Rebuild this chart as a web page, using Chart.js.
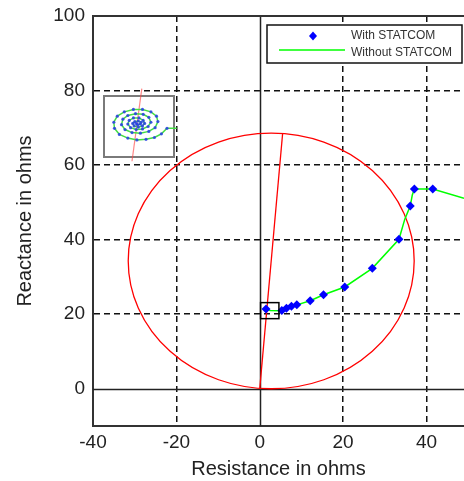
<!DOCTYPE html>
<html>
<head>
<meta charset="utf-8">
<script src="https://cdn.jsdelivr.net/npm/chart.js@4.4.1/dist/chart.umd.min.js"></script>
<style>
  html, body { margin: 0; padding: 0; background: #fff; overflow: hidden; }
  #wrap { width: 464px; height: 481px; }
</style>
</head>
<body>
<div id="wrap"><canvas id="chart" width="464" height="481"></canvas></div>
<script>
// tick labels
const xTicks = [-40, -20, 0, 20, 40];
const yTicks = [0, 20, 40, 60, 80, 100];

// impedance trajectory with STATCOM (markers)
const withX = [1.5, 5.3, 6.4, 7.6, 8.9, 12.1, 15.3, 20.4, 27.0, 33.4, 36.1, 37.1, 41.5];
const withY = [21.4, 21.0, 21.6, 22.1, 22.5, 23.6, 25.2, 27.3, 32.3, 40.1, 49.0, 53.6, 53.6];

// impedance trajectory without STATCOM (line)
const withoutX = [1.5, 2.5, 5.0, 5.3, 6.4, 7.6, 8.9, 12.1, 15.3, 20.4, 27.0, 33.4, 34.8, 36.1, 36.6, 37.1, 41.5, 49.0];
const withoutY = [21.4, 21.0, 20.9, 21.0, 21.6, 22.1, 22.5, 23.6, 25.2, 27.3, 32.3, 40.1, 45.5, 49.0, 52.0, 53.6, 53.6, 51.1];

// mho relay characteristic: circle centre / radius and its diameter
const mhoCenter = [2.75, 34.3];
const mhoRadius = [34.3];
const diaX = [0, 5.5];
const diaY = [0, 68.6];

// zoomed region marked on the plot [xmin, xmax, ymin, ymax]
const zoomBox = [0.2, 4.6, 18.8, 23.1];

// inset (zoom of the box), local units 0..100
const insetDotsU = [90, 82, 72, 60, 47, 34, 22, 15, 14, 19, 29, 42, 55, 67, 75, 77,
  73, 64, 52, 40, 30, 25, 27, 34, 45, 56, 64, 67,
  63, 55, 46, 38, 34, 36, 42, 50, 56, 58,
  55, 49, 43, 41, 44, 49, 53, 52, 48, 46];
const insetDotsV = [53, 62, 68, 71, 72, 69, 63, 53, 43, 33, 26, 22, 22, 26, 33, 42,
  52, 58, 61, 60, 55, 47, 38, 32, 29, 30, 35, 43,
  50, 54, 55, 52, 46, 40, 36, 36, 40, 45,
  49, 51, 49, 45, 42, 41, 43, 46, 47, 45];
const insetTailU = [104, 90];
const insetTailV = [53, 53];
const insetRedU = [54, 40];
const insetRedV = [-12, 107];

const FONT = 'Arial, "Liberation Sans", sans-serif';

function pts(xs, ys) {
    return xs.map((x, i) => ({ x: x, y: ys[i] }));
}

// 0축 실선, 원, 윗 테두리
const overlayPlugin = {
    id: 'overlay',
    beforeDatasetsDraw(chart) {
        const { ctx, chartArea: a, scales: { x, y } } = chart;
        ctx.save();
        ctx.strokeStyle = '#222';
        ctx.lineWidth = 1.5;
        const x0 = Math.round(x.getPixelForValue(0)) + 0.5;
        const y0 = Math.round(y.getPixelForValue(0)) + 0.5;
        ctx.beginPath();
        ctx.moveTo(x0, a.top); ctx.lineTo(x0, a.bottom);
        ctx.moveTo(a.left, y0); ctx.lineTo(a.right, y0);
        ctx.stroke();

        // mho circle
        ctx.beginPath();
        ctx.rect(a.left, a.top, a.right - a.left, a.bottom - a.top);
        ctx.clip();
        const cx = x.getPixelForValue(mhoCenter[0]);
        const cy = y.getPixelForValue(mhoCenter[1]);
        const rx = Math.abs(x.getPixelForValue(mhoCenter[0] + mhoRadius[0]) - cx);
        const ry = Math.abs(y.getPixelForValue(mhoCenter[1] + mhoRadius[0]) - cy);
        ctx.strokeStyle = '#ff0000';
        ctx.lineWidth = 1.3;
        ctx.beginPath();
        ctx.ellipse(cx, cy, rx, ry, 0, 0, Math.PI * 2);
        ctx.stroke();
        ctx.restore();
    },
    afterDatasetsDraw(chart) {
        const { ctx, chartArea: a, scales: { x, y } } = chart;
        ctx.save();
        // zoom box
        const bx1 = x.getPixelForValue(zoomBox[0]), bx2 = x.getPixelForValue(zoomBox[1]);
        const by1 = y.getPixelForValue(zoomBox[3]), by2 = y.getPixelForValue(zoomBox[2]);
        ctx.strokeStyle = '#000';
        ctx.lineWidth = 1.5;
        ctx.strokeRect(bx1, by1, bx2 - bx1, by2 - by1);

        // top border
        ctx.strokeStyle = '#333';
        ctx.lineWidth = 2;
        ctx.beginPath();
        ctx.moveTo(a.left - 1, a.top);
        ctx.lineTo(a.right, a.top);
        ctx.stroke();

        // inset
        const L = 104, T = 96, W = 70, H = 61;
        const px = u => L + u / 100 * W;
        const py = v => T + v / 100 * H;
        ctx.fillStyle = '#fff';
        ctx.fillRect(L, T, W, H);
        ctx.strokeStyle = '#7a7a7a';
        ctx.lineWidth = 2;
        ctx.strokeRect(L, T, W, H);

        ctx.strokeStyle = 'rgba(255,70,70,0.65)';
        ctx.lineWidth = 1.2;
        ctx.beginPath();
        ctx.moveTo(px(insetRedU[0]), py(insetRedV[0]));
        ctx.lineTo(px(insetRedU[1]), py(insetRedV[1]));
        ctx.stroke();

        ctx.strokeStyle = '#44dd44';
        ctx.lineWidth = 1.5;
        ctx.beginPath();
        ctx.moveTo(px(insetTailU[0]), py(insetTailV[0]));
        ctx.lineTo(px(insetTailU[1]), py(insetTailV[1]));
        insetDotsU.forEach((u, i) => ctx.lineTo(px(u), py(insetDotsV[i])));
        ctx.stroke();

        ctx.fillStyle = 'rgba(40,60,230,0.85)';
        insetDotsU.forEach((u, i) => {
            ctx.beginPath();
            ctx.arc(px(u), py(insetDotsV[i]), 1.6, 0, Math.PI * 2);
            ctx.fill();
        });

        // legend
        ctx.fillStyle = '#fff';
        ctx.fillRect(267, 25, 195, 38);
        ctx.strokeStyle = '#111';
        ctx.lineWidth = 1.5;
        ctx.strokeRect(267, 25, 195, 38);
        ctx.fillStyle = '#0000ff';
        ctx.beginPath();
        ctx.moveTo(313, 31.5); ctx.lineTo(317, 36); ctx.lineTo(313, 40.5); ctx.lineTo(309, 36);
        ctx.closePath();
        ctx.fill();
        ctx.strokeStyle = '#00ff00';
        ctx.lineWidth = 1.5;
        ctx.beginPath();
        ctx.moveTo(279, 50); ctx.lineTo(345, 50);
        ctx.stroke();
        ctx.fillStyle = '#333';
        ctx.font = '12px ' + FONT;
        ctx.textBaseline = 'middle';
        ctx.fillText('With STATCOM', 351, 36);
        ctx.fillText('Without STATCOM', 351, 52.5);
        ctx.restore();
    }
};

const gridColor = (skip) => (c) => (c.tick && skip.includes(c.tick.value)) ? 'rgba(0,0,0,0)' : '#111';

new Chart(document.getElementById('chart'), {
    type: 'scatter',
    data: {
        datasets: [
            {
                label: 'With STATCOM',
                data: pts(withX, withY),
                showLine: false,
                pointStyle: 'rectRot',
                pointRadius: 4.5,
                pointBorderWidth: 0,
                pointBackgroundColor: '#0000ff',
                pointBorderColor: '#0000ff'
            },
            {
                label: 'Without STATCOM',
                data: pts(withoutX, withoutY),
                showLine: true,
                borderColor: '#00ff00',
                borderWidth: 1.5,
                pointRadius: 0,
                tension: 0
            },
            {
                label: 'diameter',
                data: pts(diaX, diaY),
                showLine: true,
                borderColor: '#ff0000',
                borderWidth: 1.3,
                pointRadius: 0
            }
        ]
    },
    options: {
        responsive: false,
        animation: false,
        layout: { autoPadding: false, padding: { top: 16, right: 0, bottom: 0, left: 0 } },
        plugins: {
            legend: { display: false },
            tooltip: { enabled: false }
        },
        scales: {
            x: {
                type: 'linear',
                min: -40,
                max: 49,
                afterBuildTicks: s => { s.ticks = xTicks.map(v => ({ value: v })); },
                afterFit: s => { s.height = 55; s.paddingLeft = 0; s.paddingRight = 0; },
                grid: { color: gridColor([-40, 0]), lineWidth: 1.5, drawTicks: false, borderDash: [6, 4] },
                border: { display: true, color: '#333', width: 2, dash: [6, 4] },
                ticks: { color: '#222', font: { family: FONT, size: 19 }, padding: 5, maxRotation: 0 },
                title: { display: true, text: 'Resistance in ohms', color: '#222', font: { family: FONT, size: 20 }, padding: { top: 0, bottom: 0 } }
            },
            y: {
                type: 'linear',
                min: -10,
                max: 100,
                afterBuildTicks: s => { s.ticks = yTicks.map(v => ({ value: v })); },
                afterFit: s => { s.width = 93; s.paddingTop = 0; s.paddingBottom = 0; },
                grid: { color: gridColor([0, 100]), lineWidth: 1.5, drawTicks: false, borderDash: [6, 4] },
                border: { display: true, color: '#333', width: 2, dash: [6, 4] },
                ticks: { color: '#222', font: { family: FONT, size: 19 }, padding: 8 },
                title: { display: true, text: 'Reactance in ohms', color: '#222', font: { family: FONT, size: 20 }, padding: { top: 13, bottom: 0 } }
            }
        }
    },
    plugins: [overlayPlugin]
});
</script>
</body>
</html>
